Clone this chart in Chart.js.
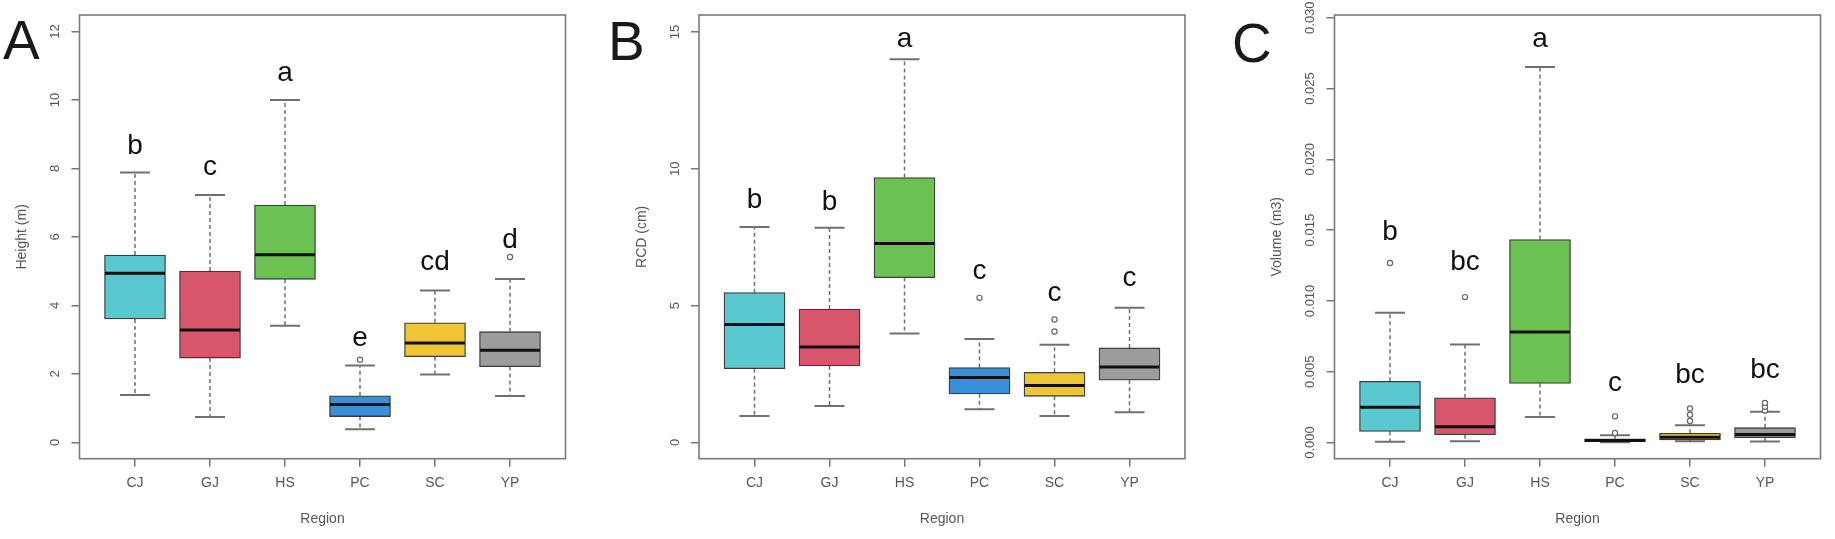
<!DOCTYPE html>
<html>
<head>
<meta charset="utf-8">
<script src="https://cdn.jsdelivr.net/npm/chart.js@4.4.1/dist/chart.umd.min.js"></script>
<style>
  html, body { margin: 0; padding: 0; background: #fff; }
  #wrap { position: relative; width: 1835px; height: 539px; }
  #wrap canvas { position: absolute; left: 0; top: 0; }
</style>
</head>
<body>
<div id="wrap">
  <canvas id="panelA" width="1835" height="539"></canvas>
  <canvas id="panelB" width="1835" height="539"></canvas>
  <canvas id="panelC" width="1835" height="539"></canvas>
</div>
<script>
// categories
const regions = ['CJ', 'GJ', 'HS', 'PC', 'SC', 'YP'];

// A - Height (m)
const heightLow  = [1.38, 0.74, 3.40, 0.38, 1.98, 1.35];
const heightQ1   = [3.60, 2.46, 4.76, 0.75, 2.50, 2.21];
const heightMed  = [4.94, 3.28, 5.48, 1.10, 2.90, 2.69];
const heightQ3   = [5.47, 5.00, 6.93, 1.36, 3.49, 3.23];
const heightHigh = [7.88, 7.22, 10.0, 2.24, 4.43, 4.77];
const heightOut  = [[], [], [], [2.41], [], [5.41]];
const heightLetters = ['b', 'c', 'a', 'e', 'cd', 'd'];
const heightLetterY = [8.41, 7.80, 10.54, 2.81, 5.04, 5.68];
const heightTicks = [0, 2, 4, 6, 8, 10, 12];
const heightTickText = ['0', '2', '4', '6', '8', '10', '12'];

// B - RCD (cm)
const rcdLow  = [0.96, 1.33, 3.98, 1.21, 0.96, 1.10];
const rcdQ1   = [2.69, 2.79, 6.02, 1.77, 1.68, 2.27];
const rcdMed  = [4.31, 3.48, 7.27, 2.37, 2.08, 2.75];
const rcdQ3   = [5.47, 4.87, 9.68, 2.73, 2.56, 3.45];
const rcdHigh = [7.87, 7.84, 14.0, 3.78, 3.57, 4.92];
const rcdOut  = [[], [], [], [5.28], [4.05, 4.49], []];
const rcdLetters = ['b', 'b', 'a', 'c', 'c', 'c'];
const rcdLetterY = [8.55, 8.50, 14.46, 5.98, 5.16, 5.73];
const rcdTicks = [0, 5, 10, 15];
const rcdTickText = ['0', '5', '10', '15'];

// C - Volume (m3)
const volLow  = [0.00005, 0.00010, 0.00180, 0.00002, 0.00010, 0.00008];
const volQ1   = [0.00078, 0.00055, 0.00417, 0.00006, 0.00018, 0.00035];
const volMed  = [0.00250, 0.00112, 0.00780, 0.00014, 0.00038, 0.00056];
const volQ3   = [0.00432, 0.00316, 0.01434, 0.00026, 0.00066, 0.00105];
const volHigh = [0.00917, 0.00693, 0.02651, 0.00052, 0.00122, 0.00218];
const volOut  = [[0.01268], [0.01027], [], [0.00068, 0.00185], [0.00152, 0.00197, 0.00240], [0.00226, 0.00252, 0.00280]];
const volLetters = ['b', 'bc', 'a', 'c', 'bc', 'bc'];
const volLetterY = [0.01428, 0.01217, 0.02795, 0.00364, 0.00424, 0.00456];
const volTicks = [0, 0.005, 0.010, 0.015, 0.020, 0.025, 0.030];
const volTickText = ['0.000', '0.005', '0.010', '0.015', '0.020', '0.025', '0.030'];

const boxColors = ['#5ac8cf', '#d8566c', '#6bc152', '#3a8fd9', '#efc536', '#9c9c9c'];
const FONT = '"Liberation Sans", Arial, sans-serif';

function boxPlugin(p) {
  return {
    id: 'boxExtras',
    beforeDatasetsDraw(chart) {
      const ctx = chart.ctx, x = chart.scales.x, y = chart.scales.y;
      ctx.save();
      ctx.strokeStyle = '#707070';
      regions.forEach((r, i) => {
        const px = x.getPixelForValue(i + 1);
        ctx.lineWidth = 1.5;
        ctx.setLineDash([4, 3]);
        ctx.beginPath();
        ctx.moveTo(px, y.getPixelForValue(p.q3[i]));
        ctx.lineTo(px, y.getPixelForValue(p.high[i]));
        ctx.moveTo(px, y.getPixelForValue(p.q1[i]));
        ctx.lineTo(px, y.getPixelForValue(p.low[i]));
        ctx.stroke();
        ctx.setLineDash([]);
        ctx.lineWidth = 2;
        ctx.beginPath();
        [p.high[i], p.low[i]].forEach(v => {
          const py = y.getPixelForValue(v);
          ctx.moveTo(px - 15, py);
          ctx.lineTo(px + 15, py);
        });
        ctx.stroke();
      });
      ctx.restore();
    },
    afterDatasetsDraw(chart) {
      const ctx = chart.ctx, x = chart.scales.x, y = chart.scales.y;
      ctx.save();
      ctx.strokeStyle = '#111';
      ctx.lineWidth = 3;
      regions.forEach((r, i) => {
        const px = x.getPixelForValue(i + 1);
        const py = y.getPixelForValue(p.med[i]);
        ctx.beginPath();
        ctx.moveTo(px - 30, py);
        ctx.lineTo(px + 30, py);
        ctx.stroke();
      });
      ctx.fillStyle = '#111';
      ctx.font = '28px ' + FONT;
      ctx.textAlign = 'center';
      ctx.textBaseline = 'alphabetic';
      p.letters.forEach((t, i) => {
        ctx.fillText(t, x.getPixelForValue(i + 1), y.getPixelForValue(p.letterY[i]));
      });
      ctx.restore();
    },
    afterDraw(chart) {
      const ctx = chart.ctx, a = chart.chartArea, y = chart.scales.y;
      ctx.save();
      ctx.strokeStyle = '#7a7a7a';
      ctx.lineWidth = 1.6;
      ctx.strokeRect(a.left, a.top, a.right - a.left, a.bottom - a.top);
      ctx.fillStyle = '#555';
      ctx.font = '13px ' + FONT;
      ctx.textAlign = 'center';
      ctx.textBaseline = 'middle';
      p.ticks.forEach((v, i) => {
        ctx.save();
        ctx.translate(a.left - 24, y.getPixelForValue(v));
        ctx.rotate(-Math.PI / 2);
        ctx.fillText(p.tickText[i], 0, 0);
        ctx.restore();
      });
      ctx.fillStyle = '#1a1a1a';
      ctx.font = '55px ' + FONT;
      ctx.textAlign = 'left';
      ctx.textBaseline = 'alphabetic';
      ctx.fillText(p.panel, p.panelX, p.panelY);
      ctx.restore();
    }
  };
}

function makePanel(id, p) {
  const ctx = document.getElementById(id).getContext('2d');
  new Chart(ctx, {
    type: 'bar',
    data: {
      datasets: [
        {
          type: 'scatter',
          data: p.out.flatMap((vals, i) => vals.map(v => ({ x: i + 1, y: v }))),
          pointRadius: 2.6,
          pointBackgroundColor: '#fff',
          pointBorderColor: '#666',
          pointBorderWidth: 1.2,
          order: 0
        },
        {
          data: regions.map((r, i) => ({ x: i + 1, y: [p.q1[i], p.q3[i]] })),
          backgroundColor: boxColors,
          borderColor: '#3c3c3c',
          borderWidth: 1.3,
          borderSkipped: false,
          barThickness: 61,
          order: 1
        }
      ]
    },
    options: {
      responsive: false,
      animation: false,
      devicePixelRatio: 1,
      layout: { padding: { left: p.left - 80, right: 1835 - p.left - 486, top: 15, bottom: 0 } },
      plugins: { legend: { display: false }, tooltip: { enabled: false } },
      scales: {
        x: {
          type: 'linear',
          min: 0.26,
          max: 6.74,
          offset: false,
          afterBuildTicks: s => { s.ticks = regions.map((r, i) => ({ value: i + 1 })); },
          afterFit: s => { s.height = 80.3; },
          ticks: {
            callback: v => regions[v - 1],
            color: '#555',
            font: { family: FONT, size: 14 },
            padding: 8,
            maxRotation: 0
          },
          grid: { drawOnChartArea: false, drawTicks: true, tickLength: 8, color: '#777', lineWidth: 1.5, offset: false },
          border: { display: false },
          title: { display: true, text: 'Region', color: '#555', font: { family: FONT, size: 14 }, padding: { top: 0, bottom: 11.6 } }
        },
        y: {
          type: 'linear',
          min: p.min,
          max: p.max,
          afterBuildTicks: s => { s.ticks = p.ticks.map(v => ({ value: v })); },
          afterFit: s => { s.width = 80; },
          ticks: { display: false },
          grid: { drawOnChartArea: false, drawTicks: true, tickLength: 8, color: '#777', lineWidth: 1.5 },
          border: { display: false },
          title: { display: true, text: p.title, color: '#555', font: { family: FONT, size: 14 }, padding: { top: 14.5, bottom: 0 } }
        }
      }
    },
    plugins: [boxPlugin(p)]
  });
}

makePanel('panelA', {
  left: 79.5, min: -0.48, max: 12.48, title: 'Height (m)',
  low: heightLow, q1: heightQ1, med: heightMed, q3: heightQ3, high: heightHigh, out: heightOut,
  letters: heightLetters, letterY: heightLetterY, ticks: heightTicks, tickText: heightTickText,
  panel: 'A', panelX: 3, panelY: 59
});
makePanel('panelB', {
  left: 699, min: -0.6, max: 15.62, title: 'RCD (cm)',
  low: rcdLow, q1: rcdQ1, med: rcdMed, q3: rcdQ3, high: rcdHigh, out: rcdOut,
  letters: rcdLetters, letterY: rcdLetterY, ticks: rcdTicks, tickText: rcdTickText,
  panel: 'B', panelX: 608, panelY: 60
});
makePanel('panelC', {
  left: 1334.5, min: -0.00114, max: 0.03019, title: 'Volume (m3)',
  low: volLow, q1: volQ1, med: volMed, q3: volQ3, high: volHigh, out: volOut,
  letters: volLetters, letterY: volLetterY, ticks: volTicks, tickText: volTickText,
  panel: 'C', panelX: 1232, panelY: 62
});
</script>
</body>
</html>
